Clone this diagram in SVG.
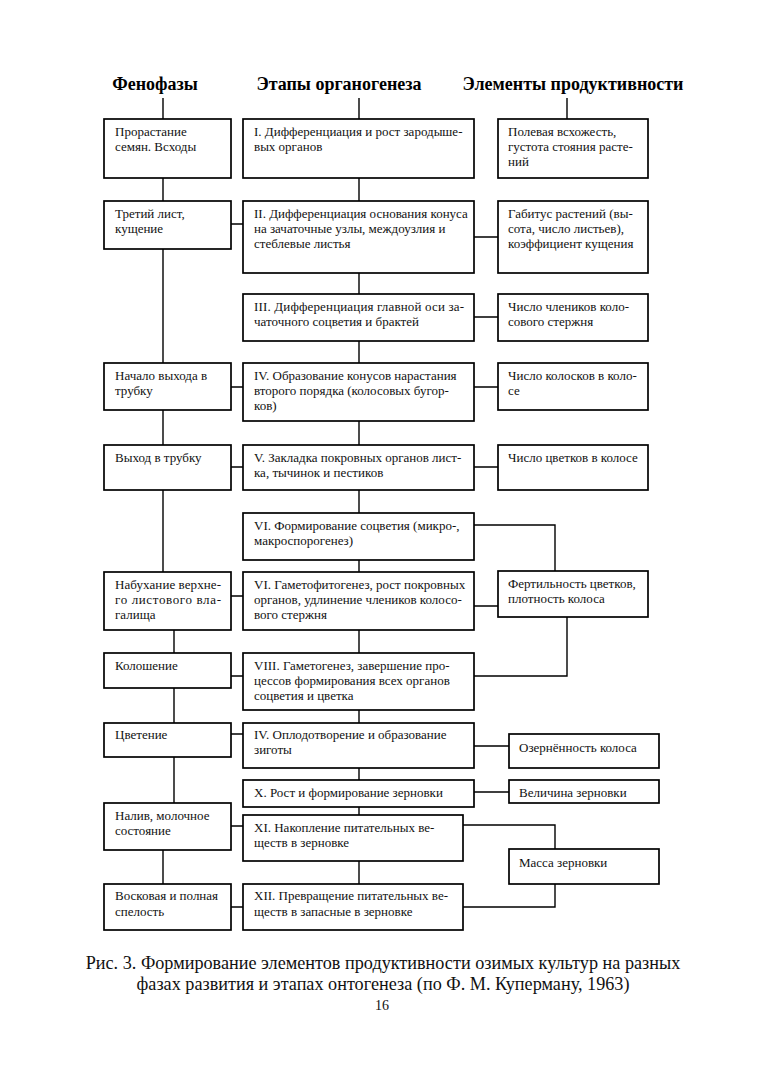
<svg xmlns="http://www.w3.org/2000/svg" width="764" height="1080" viewBox="0 0 764 1080">
<style>
.bg{fill:#fff}
.box{fill:#fff;stroke:#000;stroke-width:1.7}
.ln{fill:none;stroke:#000;stroke-width:1.4}
.t{font-family:"Liberation Serif","Times New Roman",serif;font-size:13px;fill:#111}
.h{font-family:"Liberation Serif","Times New Roman",serif;font-size:18px;font-weight:bold;fill:#000;text-anchor:middle}
.cap{font-family:"Liberation Serif","Times New Roman",serif;font-size:18.2px;fill:#111;text-anchor:middle}
.pg{font-family:"Liberation Serif","Times New Roman",serif;font-size:14px;fill:#111;text-anchor:middle}
</style>
<rect class="bg" x="0" y="0" width="764" height="1080"/>
<g id="headers">
<text class="h" x="155" y="90">Фенофазы</text>
<text class="h" x="339" y="90">Этапы органогенеза</text>
<text class="h" x="573" y="90">Элементы продуктивности</text>
</g>
<g id="connectors">
<path class="ln" d="M163,98V119 M359,98V119 M567,98V119"/>
<path class="ln" d="M163,178V201 M163,249V363 M163,410V445 M163,490V572 M174,630V653 M174,688V723 M174,757V803 M163,850V884"/>
<path class="ln" d="M359,178V201 M359,273V294 M359,341V363 M359,421V445 M359,490V513 M359,560V572 M359,630V653 M359,710V723 M359,768V780 M359,807V815 M359,861V884"/>
<path class="ln" d="M231,224H243 M231,387H243 M231,467H243 M231,596H243 M231,676H243 M231,734H243 M231,826H243 M231,907H243"/>
<path class="ln" d="M474,237H498 M474,317H498 M474,387H498 M474,467H498"/>
<path class="ln" d="M474,525H555V571 M474,606H498 M567,617V676H474"/>
<path class="ln" d="M474,746H509 M474,792H509"/>
<path class="ln" d="M463,825H555V849 M555,884V907H463"/>
</g>
<g id="L1"><rect class="box" x="104" y="119" width="127" height="59"/><text class="t" x="115" y="135.5">Прорастание</text><text class="t" x="115" y="150.5">семян. Всходы</text></g>
<g id="L2"><rect class="box" x="104" y="201" width="127" height="48"/><text class="t" x="115" y="217.5">Третий лист,</text><text class="t" x="115" y="232.5">кущение</text></g>
<g id="L3"><rect class="box" x="104" y="363" width="127" height="47"/><text class="t" x="115" y="379.5">Начало выхода в</text><text class="t" x="115" y="394.5">трубку</text></g>
<g id="L4"><rect class="box" x="104" y="445" width="127" height="45"/><text class="t" x="115" y="461.5">Выход в трубку</text></g>
<g id="L5"><rect class="box" x="104" y="572" width="127" height="58"/><text class="t" x="115" y="588.5" textLength="106" lengthAdjust="spacing">Набухание верхне-</text><text class="t" x="115" y="603.5" textLength="106" lengthAdjust="spacing">го листового вла-</text><text class="t" x="115" y="618.5">галища</text></g>
<g id="L6"><rect class="box" x="104" y="653" width="127" height="35"/><text class="t" x="115" y="669.5">Колошение</text></g>
<g id="L7"><rect class="box" x="104" y="723" width="127" height="34"/><text class="t" x="115" y="739">Цветение</text></g>
<g id="L8"><rect class="box" x="104" y="803" width="127" height="47"/><text class="t" x="115" y="819.5">Налив, молочное</text><text class="t" x="115" y="834.5">состояние</text></g>
<g id="L9"><rect class="box" x="104" y="884" width="127" height="46"/><text class="t" x="115" y="900">Восковая и полная</text><text class="t" x="115" y="915.5">спелость</text></g>
<g id="M1"><rect class="box" x="243" y="119" width="231" height="59"/><text class="t" x="254" y="135.5">I. Дифференциация и рост зародыше-</text><text class="t" x="254" y="150.5">вых органов</text></g>
<g id="M2"><rect class="box" x="243" y="201" width="231" height="72"/><text class="t" x="254" y="217.5">II. Дифференциация основания конуса</text><text class="t" x="254" y="232.5">на зачаточные узлы, междоузлия и</text><text class="t" x="254" y="247.5">стеблевые листья</text></g>
<g id="M3"><rect class="box" x="243" y="294" width="231" height="47"/><text class="t" x="254" y="310.5" textLength="210" lengthAdjust="spacing">III. Дифференциация главной оси за-</text><text class="t" x="254" y="325.5">чаточного соцветия и брактей</text></g>
<g id="M4"><rect class="box" x="243" y="363" width="231" height="58"/><text class="t" x="254" y="379.5">IV. Образование конусов нарастания</text><text class="t" x="254" y="394.5">второго порядка (колосовых бугор-</text><text class="t" x="254" y="409.5">ков)</text></g>
<g id="M5"><rect class="box" x="243" y="445" width="231" height="45"/><text class="t" x="254" y="461.5">V. Закладка покровных органов лист-</text><text class="t" x="254" y="476.5">ка, тычинок и пестиков</text></g>
<g id="M6"><rect class="box" x="243" y="513" width="231" height="47"/><text class="t" x="254" y="529.5">VI. Формирование соцветия (микро-,</text><text class="t" x="254" y="544.5">макроспорогенез)</text></g>
<g id="M7"><rect class="box" x="243" y="572" width="231" height="58"/><text class="t" x="254" y="588.5">VI. Гаметофитогенез, рост покровных</text><text class="t" x="254" y="603.5">органов, удлинение члеников колосо-</text><text class="t" x="254" y="618.5">вого стержня</text></g>
<g id="M8"><rect class="box" x="243" y="653" width="231" height="57"/><text class="t" x="254" y="669.5">VIII. Гаметогенез, завершение про-</text><text class="t" x="254" y="684.5">цессов формирования всех органов</text><text class="t" x="254" y="699.5">соцветия и цветка</text></g>
<g id="M9"><rect class="box" x="243" y="723" width="231" height="45"/><text class="t" x="254" y="739">IV. Оплодотворение и образование</text><text class="t" x="254" y="754">зиготы</text></g>
<g id="M10"><rect class="box" x="243" y="780" width="231" height="27"/><text class="t" x="254" y="797">X. Рост и формирование зерновки</text></g>
<g id="M11"><rect class="box" x="243" y="815" width="220" height="46"/><text class="t" x="254" y="831.5">XI. Накопление питательных ве-</text><text class="t" x="254" y="846.5">ществ в зерновке</text></g>
<g id="M12"><rect class="box" x="243" y="884" width="220" height="46"/><text class="t" x="254" y="900">XII. Превращение питательных ве-</text><text class="t" x="254" y="915.5">ществ в запасные в зерновке</text></g>
<g id="R1"><rect class="box" x="498" y="119" width="150" height="59"/><text class="t" x="508" y="135.5">Полевая всхожесть,</text><text class="t" x="508" y="150.5">густота стояния расте-</text><text class="t" x="508" y="165.5">ний</text></g>
<g id="R2"><rect class="box" x="498" y="201" width="150" height="72"/><text class="t" x="508" y="217.5">Габитус растений (вы-</text><text class="t" x="508" y="232.5">сота, число листьев),</text><text class="t" x="508" y="247.5">коэффициент кущения</text></g>
<g id="R3"><rect class="box" x="498" y="294" width="150" height="47"/><text class="t" x="508" y="310.5">Число члеников коло-</text><text class="t" x="508" y="325.5">сового стержня</text></g>
<g id="R4"><rect class="box" x="498" y="363" width="150" height="47"/><text class="t" x="508" y="379.5">Число колосков в коло-</text><text class="t" x="508" y="394.5">се</text></g>
<g id="R5"><rect class="box" x="498" y="445" width="150" height="45"/><text class="t" x="508" y="461.5">Число цветков в колосе</text></g>
<g id="R6"><rect class="box" x="498" y="571" width="150" height="46"/><text class="t" x="508" y="587.5">Фертильность цветков,</text><text class="t" x="508" y="602.5">плотность колоса</text></g>
<g id="R7"><rect class="box" x="509" y="734" width="150" height="34"/><text class="t" x="519" y="752">Озернённость колоса</text></g>
<g id="R8"><rect class="box" x="509" y="780" width="150" height="23"/><text class="t" x="519" y="796.5">Величина зерновки</text></g>
<g id="R9"><rect class="box" x="509" y="849" width="150" height="35"/><text class="t" x="519" y="867">Масса зерновки</text></g>
<g id="caption">
<text class="cap" x="383" y="969">Рис. 3. Формирование элементов продуктивности озимых культур на разных</text>
<text class="cap" x="383" y="990">фазах развития и этапах онтогенеза (по Ф. М. Куперману, 1963)</text>
<text class="pg" x="382" y="1010">16</text>
</g>
</svg>
